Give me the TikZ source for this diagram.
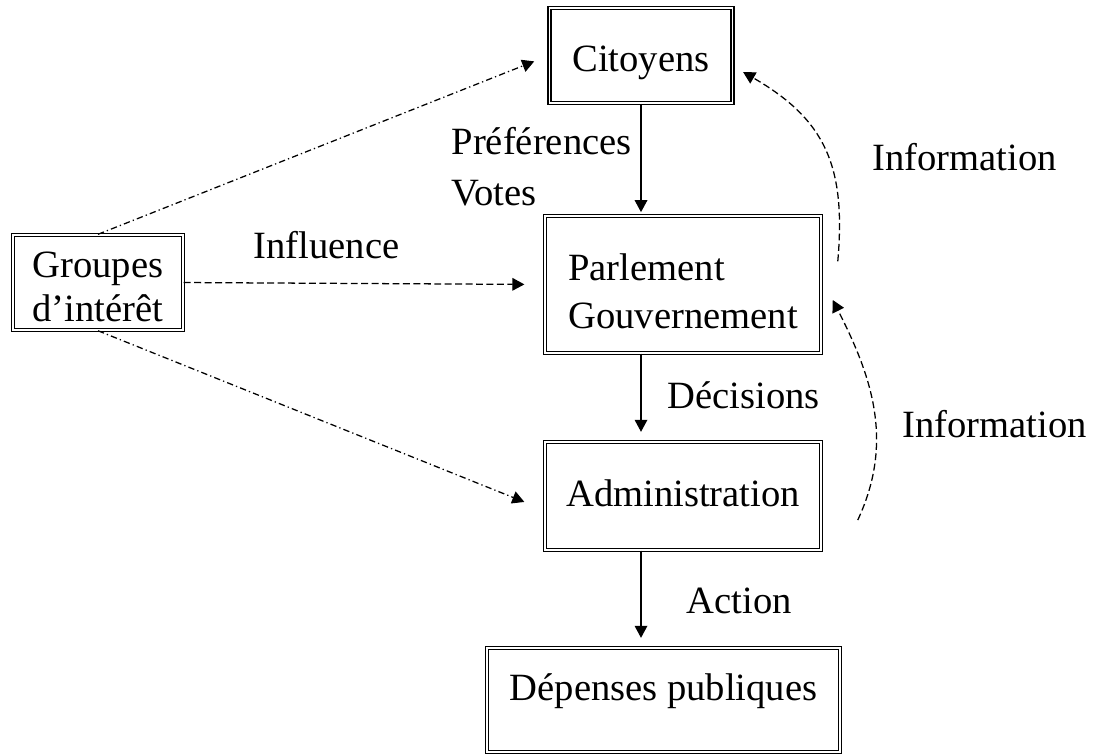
\documentclass[tikz,border=0pt]{standalone}
\usepackage{fontspec}
\setmainfont{Liberation Serif}
\usetikzlibrary{arrows.meta}

\begin{document}
\begin{tikzpicture}[
    box/.style={
        draw, double, double distance=0.5pt, line width=0.45pt,
        inner sep=0pt, align=center, font=\fontsize{12.2}{14.6}\selectfont
    },
    lbl/.style={inner sep=0pt, font=\fontsize{12.2}{14.6}\selectfont},
    arrow/.style={-{Triangle[length=3.8pt, width=4pt]}, line width=0.4pt},
    dasharrow/.style={arrow, dash pattern=on 2.2pt off 1.1pt},
    dotarrow/.style={arrow, dash pattern=on 2pt off 1pt on 0.4pt off 1pt}
]
\useasboundingbox (0,0) rectangle (12.144,8.378);

\node[box, minimum width=2.03cm, minimum height=1.06cm, text height=12.5pt] (cit) at (7.122, 7.761) {Citoyens};
\node[box, minimum width=1.889cm, minimum height=1.056cm] (grp) at (1.089, 5.239) {\rule{0pt}{11pt}Groupes\\[-0.8pt]d’intérêt};
\node[box, minimum width=3.067cm, minimum height=1.522cm, align=left] (parl) at (7.589, 5.217) {\rule{0pt}{13pt}Parlement\\[0.6pt]Gouvernement};
\node[box, minimum width=3.067cm, minimum height=1.2cm, text depth=2pt] (adm) at (7.589, 2.867) {Administration};
\node[box, minimum width=3.922cm, minimum height=1.156cm, text depth=8pt] (dep) at (7.372, 0.6) {Dépenses publiques};

\node[lbl, anchor=north west, align=left] (pref) at (5.011, 6.97) {Préférences\\[1.5pt]Votes};
\node[lbl, anchor=base west] (infl) at (2.811, 5.511) {Influence};
\node[lbl, anchor=base west] (info1) at (9.689, 6.489) {Information};
\node[lbl, anchor=base west] (dec) at (7.411, 3.844) {Décisions};
\node[lbl, anchor=base west] (info2) at (10.022, 3.522) {Information};
\node[lbl, anchor=base west] (act) at (7.622, 1.567) {Action};

% main chain
\draw[arrow, shorten >=1pt] (cit.south) -- (cit.south |- parl.north);
\draw[arrow, shorten >=3pt] (cit.south |- parl.south) -- (cit.south |- adm.north);
\draw[arrow, shorten >=3pt] (cit.south |- adm.south) -- (cit.south |- dep.north);

% influence of the groups
\draw[dotarrow, shorten >=5pt] (grp.north) -- (cit.west);
\draw[dasharrow, shorten >=6.3pt] (grp.east) -- (parl.west);
\draw[dotarrow, shorten >=6.8pt] (grp.south) -- ([yshift=-0.155cm]adm.west);

% feedback
\draw[dasharrow] ([shift={(0.178,-0.511)}]parl.north east) to[out=85, in=-30, looseness=1.15] ([shift={(0.111,-0.183)}]cit.east);
\draw[dasharrow] ([shift={(0.4,-0.267)}]adm.east) to[out=65, in=-63] ([shift={(0.122,-0.172)}]parl.east);

\end{tikzpicture}
\end{document}
